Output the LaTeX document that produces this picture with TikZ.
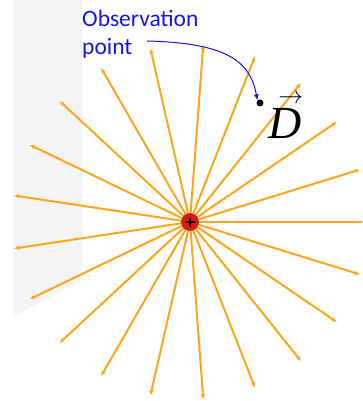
\documentclass[tikz,border=0pt]{standalone}
\usepackage{fontspec}
\usepackage{amsmath}
\usetikzlibrary{arrows.meta, positioning, calc}
\newfontfamily\labelfont{Carlito}
\newfontfamily\vecfont{Liberation Serif}
\definecolor{cray}{HTML}{FFA41B}
\definecolor{cblue}{HTML}{1414F0}
\definecolor{cpanel}{HTML}{F3F4F6}
\definecolor{ccharge}{HTML}{F01010}

\begin{document}
\begin{tikzpicture}[x=1pt, y=-1pt]
    \useasboundingbox (0,0) rectangle (362,401);
    \clip (0,0) rectangle (362,401);
    % background panel
    \fill[cpanel] (13,0) -- (82,0) -- (82,280) -- (13,317) -- cycle;
    % field rays
    \coordinate (c) at (190,222);
    \foreach \k in {0,...,20}
        \draw[cray, line width=2pt, -{Latex[length=5pt, width=4.5pt]}] (c) -- ++(\k*360/21:178);
    \node (q) [circle, draw=black!70, fill=ccharge, minimum size=17pt, inner sep=0pt, line width=0.6pt] at (c) {};
    \draw[line width=1.1pt] ($(q)+(-4.5,0)$) -- ($(q)+(4.5,0)$) ($(q)+(0,-4.5)$) -- ($(q)+(0,4.5)$);
    % observation point
    \node (obs) [circle, fill=black, minimum size=7pt, inner sep=0pt] at (260,103) {};
    \node (d) [anchor=west, inner sep=0pt, font=\fontsize{46}{50}\selectfont] at (267,115)
        {$\overset{\scriptscriptstyle\mkern8mu\rightarrow}{\mbox{\vecfont\itshape D}}$};
    \node (lbl) [anchor=north west, align=left, inner sep=0pt, font=\fontsize{23.5}{28}\selectfont\labelfont\color{cblue}] at (82,10) {Observation\\point};
    \coordinate (tail) at (147,41);
    \draw[cblue, line width=1pt, -{Latex[length=6pt, width=5pt]}] (tail) .. controls (225,43) and (250,60) .. (obs.north west);
\end{tikzpicture}
\end{document}
